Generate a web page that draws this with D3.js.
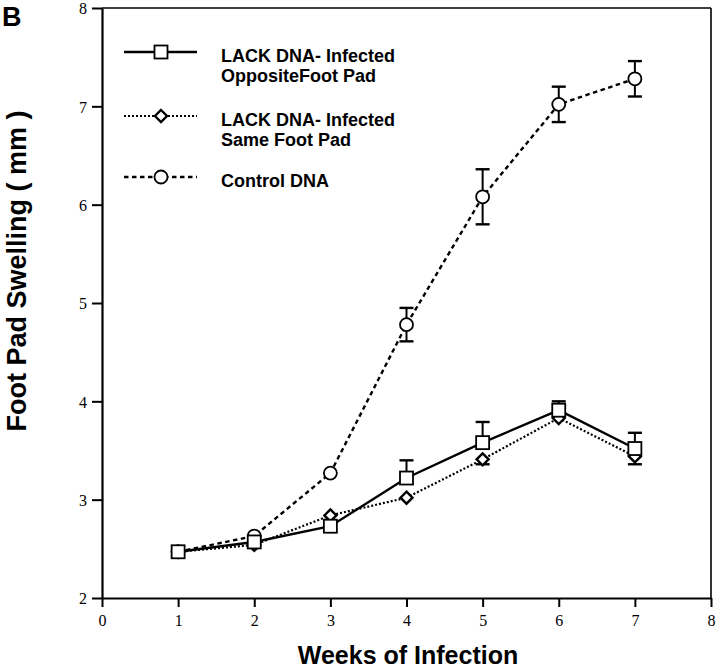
<!DOCTYPE html>
<html>
<head>
<meta charset="utf-8">
<script src="https://cdn.jsdelivr.net/npm/d3@7"></script>
<style>
  body { margin: 0; background: #fff; }
  svg text { fill: #000; }
  .tick text { font-family: "Liberation Serif", "Times New Roman", serif; font-size: 16px; }
  .bold { font-family: "Liberation Sans", Arial, sans-serif; font-weight: bold; }
</style>
</head>
<body>
<svg id="chart" width="720" height="668"></svg>
<script>
// weeks of infection
const weeks = [1, 2, 3, 4, 5, 6, 7]

// LACK DNA - infected, opposite foot pad (squares, solid)
const opposite = [2.47, 2.57, 2.73, 3.22, 3.58, 3.91, 3.52]
const oppositeErrUp = [0, 0, 0, 0.18, 0.21, 0.09, 0.16]

// LACK DNA - infected, same foot pad (diamonds, dotted)
const same = [2.47, 2.54, 2.84, 3.02, 3.41, 3.83, 3.44]
const sameErrDown = [0, 0, 0, 0, 0.05, 0, 0.08]

// control DNA (circles, dashed)
const control = [2.47, 2.63, 3.27, 4.78, 6.08, 7.02, 7.28]
const controlErr = [0, 0, 0, 0.17, 0.28, 0.18, 0.18]

const xTicks = [0, 1, 2, 3, 4, 5, 6, 7, 8]
const yTicks = [2, 3, 4, 5, 6, 7, 8]

const legendLabels = [
    ["LACK DNA- Infected", "OppositeFoot Pad"],
    ["LACK DNA- Infected", "Same Foot Pad"],
    ["Control DNA"]
]

const svg = d3.select("#chart")

var x = d3.scaleLinear().domain([0, 8]).range([102, 711])
var y = d3.scaleLinear().domain([2, 8]).range([598, 8])

// frame top / right
svg.append("line")
    .attr("x1", x(0)).attr("x2", x(8))
    .attr("y1", y(8)).attr("y2", y(8))
    .attr("stroke", "#000").attr("stroke-width", 1.6)
svg.append("line")
    .attr("x1", x(8)).attr("x2", x(8))
    .attr("y1", y(8)).attr("y2", y(2))
    .attr("stroke", "#000").attr("stroke-width", 1.6)

// x axis
var xAxis = svg.append("g")
    .attr("transform", "translate(0," + y(2) + ")")
    .call(d3.axisBottom(x).tickValues(xTicks).tickFormat(d3.format("d"))
        .tickSize(9).tickPadding(8).tickSizeOuter(0))
xAxis.select(".domain").attr("stroke-width", 2.2)
xAxis.selectAll(".tick line").attr("stroke-width", 2)

// y axis
var yAxis = svg.append("g")
    .attr("transform", "translate(" + x(0) + ",0)")
    .call(d3.axisLeft(y).tickValues(yTicks).tickFormat(d3.format("d"))
        .tickSize(10).tickPadding(5).tickSizeOuter(0))
yAxis.select(".domain").attr("stroke-width", 2.2)
yAxis.selectAll(".tick line").attr("stroke-width", 2)
yAxis.selectAll(".tick text").attr("dy", "0.36em")

// axis titles
svg.append("text").attr("class", "bold")
    .attr("x", 408).attr("y", 664)
    .attr("text-anchor", "middle")
    .style("font-size", "25px")
    .text("Weeks of Infection")

svg.append("text").attr("class", "bold")
    .attr("transform", "translate(26,271) rotate(-90)")
    .attr("text-anchor", "middle")
    .style("font-size", "27px")
    .text("Foot Pad Swelling ( mm )")

svg.append("text").attr("class", "bold")
    .attr("x", 2).attr("y", 26)
    .style("font-size", "27px")
    .text("B")

// series
const series = [
    {values: opposite, dash: null, width: 2.4, marker: "square"},
    {values: same, dash: "2,2", width: 2.2, marker: "diamond"},
    {values: control, dash: "4.5,3.5", width: 2.4, marker: "circle"}
]

var line = d3.line()
    .x((d, i) => x(weeks[i]))
    .y(d => y(d))

// error bars (drawn under markers)
function errBar(g, wk, from, to) {
    if (from === to) return
    g.append("line")
        .attr("x1", x(wk)).attr("x2", x(wk))
        .attr("y1", y(from)).attr("y2", y(to))
        .attr("stroke", "#000").attr("stroke-width", 2)
    g.append("line")
        .attr("x1", x(wk) - 7).attr("x2", x(wk) + 7)
        .attr("y1", y(to)).attr("y2", y(to))
        .attr("stroke", "#000").attr("stroke-width", 2.4)
}

var errG = svg.append("g")
weeks.forEach((wk, i) => {
    errBar(errG, wk, control[i], control[i] + controlErr[i])
    errBar(errG, wk, control[i], control[i] - controlErr[i])
    errBar(errG, wk, opposite[i], opposite[i] + oppositeErrUp[i])
    errBar(errG, wk, same[i], same[i] - sameErrDown[i])
})

series.forEach(s => {
    svg.append("path")
        .attr("d", line(s.values))
        .attr("fill", "none")
        .attr("stroke", "#000")
        .attr("stroke-width", s.width)
        .attr("stroke-dasharray", s.dash)
})

function drawMarker(g, kind, cx, cy) {
    if (kind === "square") {
        g.append("rect")
            .attr("x", cx - 6.5).attr("y", cy - 6.5)
            .attr("width", 13).attr("height", 13)
            .attr("fill", "#fff").attr("stroke", "#000").attr("stroke-width", 1.8)
    } else if (kind === "diamond") {
        g.append("path")
            .attr("d", "M0,-6L6,0L0,6L-6,0Z")
            .attr("transform", "translate(" + cx + "," + cy + ")")
            .attr("fill", "#fff").attr("stroke", "#000").attr("stroke-width", 2.4)
    } else {
        g.append("circle")
            .attr("cx", cx).attr("cy", cy).attr("r", 6.5)
            .attr("fill", "#fff").attr("stroke", "#000").attr("stroke-width", 1.8)
    }
}

var markG = svg.append("g")
// draw controls first, then diamonds, squares on top
;[2, 1, 0].forEach(k => {
    let s = series[k]
    s.values.forEach((v, i) => drawMarker(markG, s.marker, x(weeks[i]), y(v)))
})

// legend
const legendY = [52, 116, 177]
series.forEach((s, k) => {
    svg.append("line")
        .attr("x1", 124).attr("x2", 197)
        .attr("y1", legendY[k]).attr("y2", legendY[k])
        .attr("stroke", "#000")
        .attr("stroke-width", s.width)
        .attr("stroke-dasharray", s.dash)
    drawMarker(svg, s.marker, 161, legendY[k])
    legendLabels[k].forEach((t, j) => {
        svg.append("text").attr("class", "bold")
            .attr("x", 221).attr("y", legendY[k] + 10 + j * 19.5)
            .style("font-size", "18px")
            .text(t)
    })
})
</script>
</body>
</html>
